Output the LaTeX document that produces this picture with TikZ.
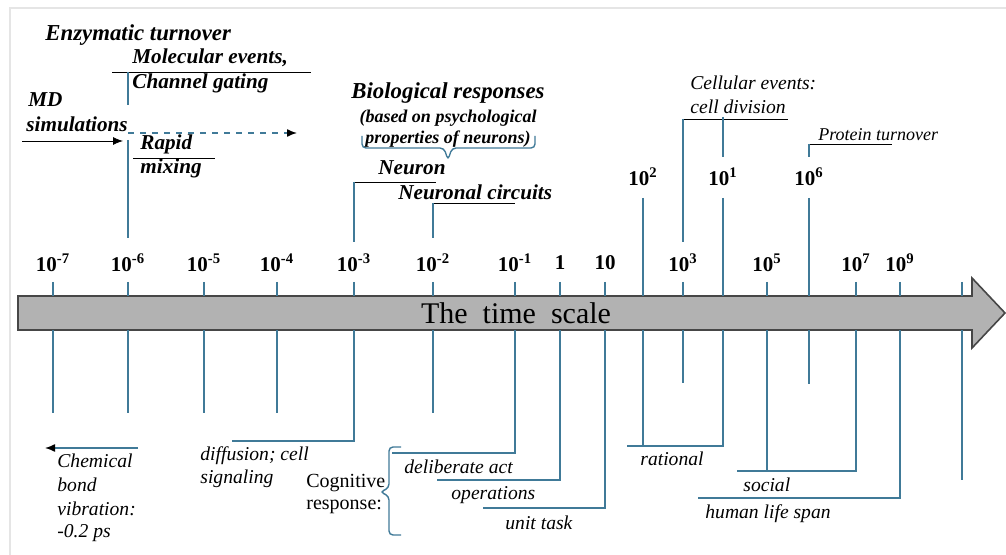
\documentclass[tikz,border=0pt]{standalone}
\usepackage{fontspec}
\setmainfont{Liberation Serif}
\usetikzlibrary{arrows.meta}
\definecolor{lineblue}{RGB}{64,122,152}
\definecolor{bargray}{RGB}{178,178,178}
\tikzset{
  tl/.style={lineblue, line width=0.7pt},
  bracket/.style={lineblue, line width=0.7pt, rounded corners=2pt},
  lbl/.style={font=\fontsize{9.8}{11}\selectfont\itshape, inner sep=0pt, anchor=west},
  ev/.style={font=\fontsize{10.6}{12}\selectfont\bfseries\itshape, inner sep=0pt, anchor=west},
  hd/.style={font=\fontsize{11.4}{13}\selectfont\bfseries\itshape, inner sep=0pt},
  ticklbl/.style={font=\fontsize{10.5}{12}\selectfont\bfseries, inner sep=0pt},
}

\begin{document}
\begin{tikzpicture}[x=0.5pt, y=-0.5pt]
    \useasboundingbox (0,0) rectangle (1006,555);
    %Rahmen
    \draw[gray!20, line width=0.8pt] (10,555) -- (10,8) -- (1006,8);

    %Zeitpfeil
    \draw[draw=gray!55!black, fill=bargray, line width=0.8pt] (18,296) -- (972,296) -- (972,278) -- (1005,313) -- (972,348) -- (972,330) -- (18,330) -- cycle;
    \node[font=\fontsize{15}{17}\selectfont] (ts) at (516,313) {The~~time~~scale};

    %Striche
    \foreach \x in {53,128,204,277,354,433,515,560,605,683,767,856,900,962} {
        \draw[tl] (\x,282) -- (\x,296);
    }%oben
    \foreach \x in {53,128,204,277,433} {
        \draw[tl] (\x,330) -- (\x,413);
    }%unten

    %Beschriftung
    \foreach \x/\e [count=\i] in {53/-7,128/-6,204/-5,277/-4,354/-3,433/-2,515/-1,683/3,767/5,856/7,900/9} {
        \node[ticklbl] (e\i) at (\x,263) {10\textsuperscript{\e}};
    }
    \node[ticklbl] (one) at (560,263) {1};
    \node[ticklbl] (ten) at (605,263) {10};
    \foreach \x/\e [count=\i] in {643/2,723/1,809/6} {
        \node[ticklbl] (u\i) at (\x,177) {10\textsuperscript{\e}};
    }

    %oben: Ereignisse
    \node[hd, anchor=west] (enz) at (45,35) {Enzymatic turnover};
    \node[ev] (mol) at (132,58) {Molecular events,};
    \node[ev] (chg) at (132,83) {Channel gating};
    \draw (112,72) -- (311,72);
    \draw[tl] (128,72) -- (128,105);
    \node[ev] (md) at (28,100) {MD};
    \node[ev] (sim) at (26,124) {simulations};
    \draw[-{Latex[length=5pt,width=4pt]}] (22,141) -- (123,141);
    \draw[tl, dashed, -{Latex[color=black,length=5pt,width=4pt]}] (128,133) -- (297,133);
    \node[ev] (rap) at (140,144) {Rapid};
    \node[ev] (mix) at (140,168) {mixing};
    \draw (133,158) -- (215,158);
    \draw[tl] (128,140) -- (128,238);

    \node[hd] (bio) at (448,93) {Biological responses};
    \node[font=\fontsize{9}{10}\selectfont\bfseries\itshape, inner sep=0pt] (psy1) at (448,118) {(based on psychological};
    \node[font=\fontsize{9}{10}\selectfont\bfseries\itshape, inner sep=0pt] (psy2) at (448,139) {properties of neurons)};
    \draw[bracket] (362,136) -- (362,148) -- (444,148) -- (448,160) -- (452,148) -- (535,148) -- (535,136);
    \node[ev] (neu) at (378,168) {Neuron};
    \node[ev] (nc) at (398,192) {Neuronal circuits};
    \draw (354,182) -- (436,182);
    \draw (433,203) -- (515,203);
    \draw[tl] (354,182) -- (354,242);
    \draw[tl] (433,203) -- (433,238);

    \node[lbl] (cel1) at (690,83) {Cellular events:};
    \node[lbl] (cel2) at (690,107) {cell division};
    \draw (682,119) -- (788,119);
    \draw[tl] (683,119) -- (683,242);
    \draw[tl] (723,117) -- (723,157);
    \node[lbl, font=\fontsize{9}{10}\selectfont\itshape] (prot) at (818,135) {Protein turnover};
    \draw (810,144) -- (892,144);
    \draw[tl] (809,144) -- (809,157);
    \foreach \x in {643,723,809} {
        \draw[tl] (\x,198) -- (\x,296);
    }

    %unten: Zuordnung
    \draw[tl, -{Latex[color=black,length=5pt,width=4pt]}] (138,448) -- (45,448);
    \node[lbl] (cb1) at (57,461) {Chemical};
    \node[lbl] (cb2) at (57,485) {bond};
    \node[lbl] (cb3) at (57,509) {vibration:};
    \node[lbl] (cb4) at (57,533) {-0.2 ps};

    \draw[tl] (354,330) |- (232,441);
    \node[lbl] (dif1) at (200,456) {diffusion; cell};
    \node[lbl] (dif2) at (200,479) {signaling};

    \node[font=\fontsize{10}{11}\selectfont, inner sep=0pt, anchor=west] (cog1) at (306,483) {Cognitive};
    \node[font=\fontsize{10}{11}\selectfont, inner sep=0pt, anchor=west] (cog2) at (306,507) {response:};
    \draw[bracket] (401,447) -- (389,447) -- (389,488) -- (380,492) -- (389,496) -- (389,535) -- (401,535);
    \draw[tl] (515,330) |- (392,453);
    \draw[tl] (560,330) |- (437,480);
    \draw[tl] (605,330) |- (483,508);
    \node[lbl] (del) at (404,467) {deliberate act};
    \node[lbl] (ops) at (451,495) {operations};
    \node[lbl] (ut) at (505,523) {unit task};

    \draw[tl] (643,330) -- (643,446);
    \draw[tl] (723,330) |- (627,446);
    \node[lbl] (rat) at (640,459) {rational};
    \draw[tl] (683,330) -- (683,383);
    \draw[tl] (809,330) -- (809,384);
    \draw[tl] (767,330) -- (767,471);
    \draw[tl] (856,330) |- (737,471);
    \node[lbl] (soc) at (743,485) {social};
    \draw[tl] (900,330) |- (698,498);
    \node[lbl] (hls) at (705,514) {human life span};
    \draw[tl] (962,330) -- (962,480);
\end{tikzpicture}
\end{document}
